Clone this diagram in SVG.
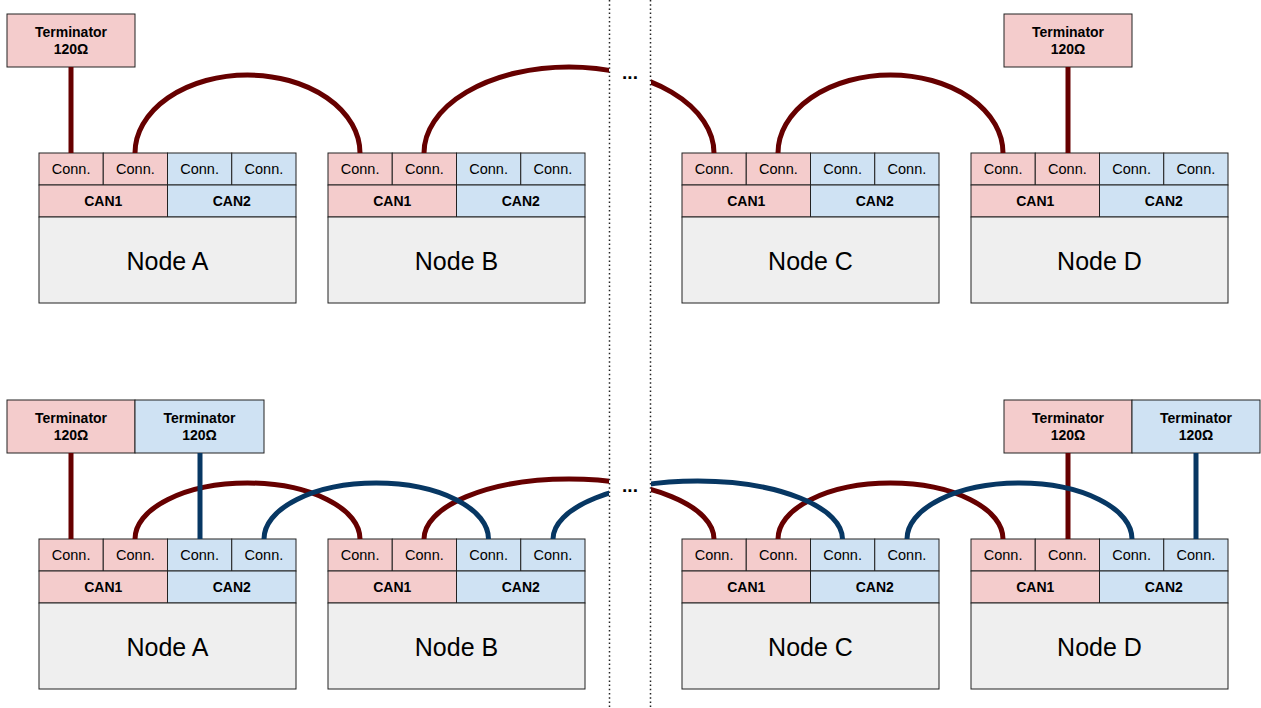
<svg xmlns="http://www.w3.org/2000/svg" width="1261" height="708" viewBox="0 0 1261 708">
<style>
text{font-family:"Liberation Sans",Arial,sans-serif;fill:#000;text-anchor:middle}
.r{fill:#f4cccc;stroke:#222;stroke-width:1}
.b{fill:#cfe2f3;stroke:#222;stroke-width:1}
.g{fill:#efefef;stroke:#222;stroke-width:1}
.c{font-size:14.5px}
.k{font-size:14px;font-weight:bold}
.n{font-size:25px}
.t{font-size:14px;font-weight:bold}
.wr{fill:none;stroke:#660000;stroke-width:5}
.wb{fill:none;stroke:#073763;stroke-width:5}
.dot{stroke:#222;stroke-width:1.5;stroke-dasharray:1.5 2.7}
.ell{font-size:19px;font-weight:bold}
</style>
<defs>
<clipPath id="gap"><rect x="0" y="0" width="609" height="708"/><rect x="651" y="0" width="610" height="708"/></clipPath>
<g id="node">
<rect class="r" x="0" y="0" width="64.25" height="32"/>
<rect class="r" x="64.25" y="0" width="64.25" height="32"/>
<rect class="b" x="128.5" y="0" width="64.25" height="32"/>
<rect class="b" x="192.75" y="0" width="64.25" height="32"/>
<rect class="r" x="0" y="32" width="128.5" height="32"/>
<rect class="b" x="128.5" y="32" width="128.5" height="32"/>
<rect class="g" x="0" y="64" width="257" height="86"/>
<text class="c" x="32.1" y="21">Conn.</text>
<text class="c" x="96.4" y="21">Conn.</text>
<text class="c" x="160.6" y="21">Conn.</text>
<text class="c" x="224.9" y="21">Conn.</text>
<text class="k" x="64.25" y="53">CAN1</text>
<text class="k" x="192.75" y="53">CAN2</text>
</g>
</defs>
<rect width="1261" height="708" fill="#fff"/>
<g id="separators">
<line class="dot" x1="609.5" y1="0" x2="609.5" y2="708"/>
<line class="dot" x1="650.5" y1="0" x2="650.5" y2="708"/>
<text class="ell" x="630" y="79">...</text>
<text class="ell" x="630" y="492">...</text>
</g>
<g id="top-node-a"><use href="#node" x="39" y="153"/><text class="n" x="167.5" y="270">Node A</text></g>
<g id="top-node-b"><use href="#node" x="328" y="153"/><text class="n" x="456.5" y="270">Node B</text></g>
<g id="top-node-c"><use href="#node" x="682" y="153"/><text class="n" x="810.5" y="270">Node C</text></g>
<g id="top-node-d"><use href="#node" x="971" y="153"/><text class="n" x="1099.5" y="270">Node D</text></g>
<g id="top-term-a"><rect class="r" x="7" y="14" width="128" height="53"/><text class="t" x="71" y="37">Terminator</text><text class="t" x="71" y="54">120Ω</text></g>
<g id="top-term-d"><rect class="r" x="1004" y="14" width="128" height="53"/><text class="t" x="1068" y="37">Terminator</text><text class="t" x="1068" y="54">120Ω</text></g>
<g id="bot-node-a"><use href="#node" x="39" y="539"/><text class="n" x="167.5" y="656">Node A</text></g>
<g id="bot-node-b"><use href="#node" x="328" y="539"/><text class="n" x="456.5" y="656">Node B</text></g>
<g id="bot-node-c"><use href="#node" x="682" y="539"/><text class="n" x="810.5" y="656">Node C</text></g>
<g id="bot-node-d"><use href="#node" x="971" y="539"/><text class="n" x="1099.5" y="656">Node D</text></g>
<g id="bot-term-a1"><rect class="r" x="7" y="400" width="128" height="53"/><text class="t" x="71" y="423">Terminator</text><text class="t" x="71" y="440">120Ω</text></g>
<g id="bot-term-a2"><rect class="b" x="135" y="400" width="129" height="53"/><text class="t" x="199.5" y="423">Terminator</text><text class="t" x="199.5" y="440">120Ω</text></g>
<g id="bot-term-d1"><rect class="r" x="1004" y="400" width="128" height="53"/><text class="t" x="1068" y="423">Terminator</text><text class="t" x="1068" y="440">120Ω</text></g>
<g id="bot-term-d2"><rect class="b" x="1132" y="400" width="128" height="53"/><text class="t" x="1196" y="423">Terminator</text><text class="t" x="1196" y="440">120Ω</text></g>
<g id="connectors">
<line class="wr" x1="71" y1="67" x2="71" y2="153"/>
<line class="wr" x1="1068" y1="67" x2="1068" y2="153"/>
<path class="wr" d="M135,153 A112.5,78 0 0 1 360,153"/>
<path class="wr" clip-path="url(#gap)" d="M424,153 A145,86 0 0 1 714,153"/>
<path class="wr" d="M778,153 A112.5,78 0 0 1 1003,153"/>
<line class="wr" x1="71" y1="453" x2="71" y2="539"/>
<line class="wr" x1="1068" y1="453" x2="1068" y2="539"/>
<path class="wr" d="M135,539 A112.5,56 0 0 1 360,539"/>
<path class="wr" clip-path="url(#gap)" d="M424,539 A145,60 0 0 1 714,539"/>
<path class="wr" d="M778,539 A112.5,56 0 0 1 1003,539"/>
<line class="wb" x1="200" y1="453" x2="200" y2="539"/>
<line class="wb" x1="1196" y1="453" x2="1196" y2="539"/>
<path class="wb" d="M264,539 A112.25,56 0 0 1 488.5,539"/>
<path class="wb" clip-path="url(#gap)" d="M553,539 A144.75,58 0 0 1 842.5,539"/>
<path class="wb" d="M907,539 A112.5,56 0 0 1 1132,539"/>
</g>
</svg>
